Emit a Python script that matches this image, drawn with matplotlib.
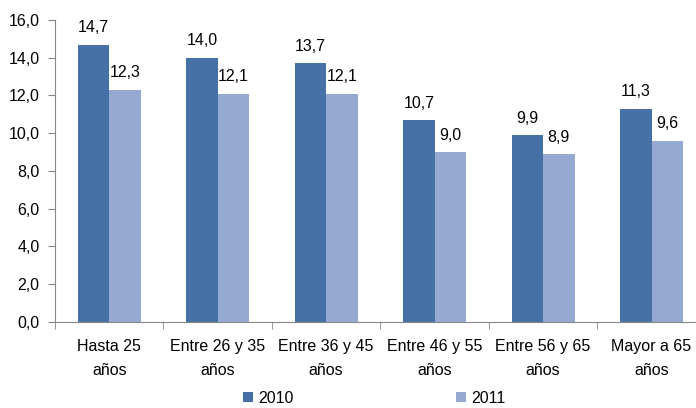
import numpy as np
import matplotlib.pyplot as plt

categorias = ['Hasta 25\naños', 'Entre 26 y 35\naños', 'Entre 36 y 45\naños',
              'Entre 46 y 55\naños', 'Entre 56 y 65\naños', 'Mayor a 65\naños']
v2010 = [14.7, 14.0, 13.7, 10.7, 9.9, 11.3]
v2011 = [12.3, 12.1, 12.1, 9.0, 8.9, 9.6]
yticks = [0, 2, 4, 6, 8, 10, 12, 14, 16]

plt.rcParams['font.family'] = ['Liberation Sans', 'DejaVu Sans']
plt.rcParams['font.size'] = 11

c2010 = '#4571A7'
c2011 = '#95A9D1'

fig = plt.figure(figsize=(6.96, 4.08), dpi=100)
# el eje x se sale un poco por la derecha, como en el original
ax = fig.add_axes([0.079, 0.211, 0.935, 0.740])

x = np.arange(len(categorias))
w = 0.29
b1 = ax.bar(x - w / 2, v2010, w, color=c2010, label='2010')
b2 = ax.bar(x + w / 2, v2011, w, color=c2011, label='2011')

# etiquetas de valores con coma decimal
for barras, vals in [(b1, v2010), (b2, v2011)]:
    for rect, v in zip(barras, vals):
        ax.text(rect.get_x() + rect.get_width() / 2, v + 0.5, f'{v:.1f}'.replace('.', ','),
                ha='center', va='bottom', fontsize=11.5)

ax.set_xlim(-0.5, len(categorias) - 0.5)
ax.set_ylim(0, 16)
ax.set_yticks(yticks)
ax.set_yticklabels([f'{t:.1f}'.replace('.', ',') for t in yticks], fontsize=11.5)

ax.set_xticks(x)
ax.set_xticklabels(categorias, fontsize=11.5, linespacing=1.75)
ax.tick_params(axis='x', length=0, pad=12)
ax.set_xticks(np.arange(-0.5, len(categorias)), minor=True)
ax.tick_params(axis='x', which='minor', length=5, color='#868686')
ax.tick_params(axis='y', length=5, color='#868686', pad=6)

for s in ['top', 'right']:
    ax.spines[s].set_visible(False)
ax.spines['left'].set_color('#868686')
ax.spines['bottom'].set_color('#868686')

fig.legend(handles=[b1, b2], loc='center', bbox_to_anchor=(0.538, 0.024), ncol=2,
           frameon=False, fontsize=11.5, handlelength=0.6, handleheight=0.6,
           handletextpad=0.35, columnspacing=10.2, borderpad=0)

fig.savefig('out.png', dpi=100)
